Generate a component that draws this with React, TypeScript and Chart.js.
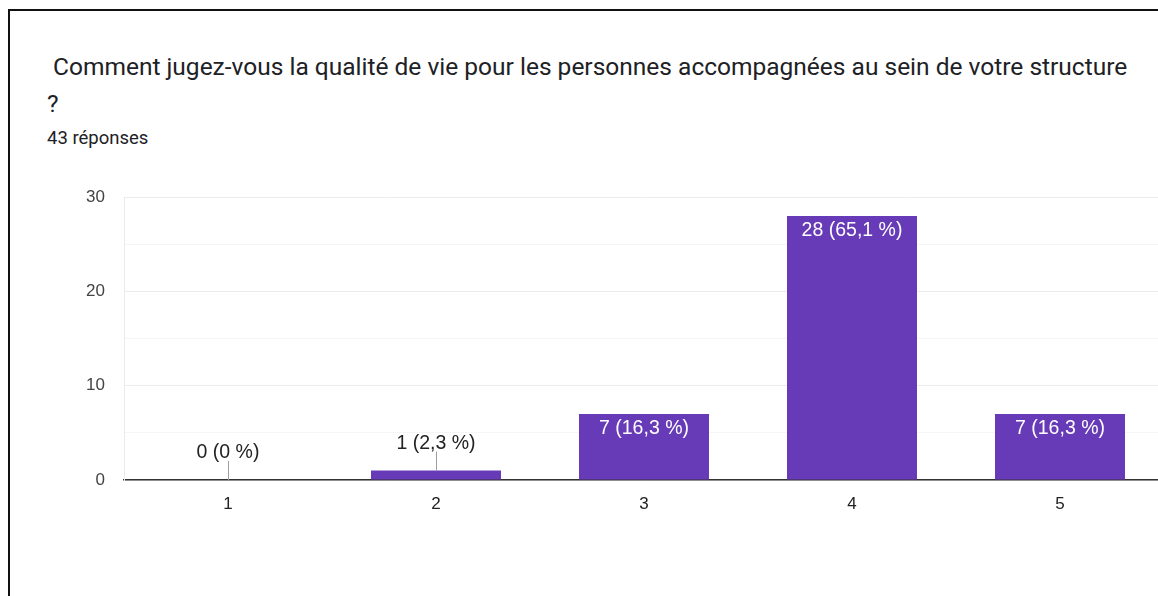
import React, { useEffect, useRef } from "react";
import { Chart, registerables } from "chart.js";

Chart.register(...registerables);

const categories = ["1", "2", "3", "4", "5"];
const counts = [0, 1, 7, 28, 7];
const percents = ["0 %", "2,3 %", "16,3 %", "65,1 %", "16,3 %"];
const yTicks = [0, 10, 20, 30];
const titleLine1 = "Comment jugez-vous la qualité de vie pour les personnes accompagnées au sein de votre structure";
const titleLine2 = "?";
const subtitle = "43 réponses";

const BAR_COLOR = "#673ab7";
const LABEL_FONT = '19.5px "Liberation Sans", Arial, sans-serif';

const labelPlugin = {
  id: "barLabels",
  afterDatasetsDraw(chart: any) {
    const ctx = chart.ctx;
    const meta = chart.getDatasetMeta(0);
    ctx.save();
    ctx.font = LABEL_FONT;
    ctx.textAlign = "center";
    ctx.textBaseline = "middle";
    meta.data.forEach((bar: any, i: number) => {
      const text = `${counts[i]} (${percents[i]})`;
      const h = bar.base - bar.y;
      if (h > 30) {
        ctx.fillStyle = "#ffffff";
        ctx.fillText(text, bar.x, bar.y + 14.5);
      } else {
        ctx.strokeStyle = "#9e9e9e";
        ctx.lineWidth = 1;
        ctx.beginPath();
        ctx.moveTo(Math.round(bar.x) + 0.5, bar.y - 19);
        ctx.lineTo(Math.round(bar.x) + 0.5, bar.y);
        ctx.stroke();
        ctx.fillStyle = "#222222";
        ctx.fillText(text, bar.x, bar.y - 27);
      }
    });
    ctx.restore();
  },
};

function BarChart() {
  const ref = useRef<HTMLCanvasElement | null>(null);
  useEffect(() => {
    if (!ref.current) return;
    const chart = new Chart(ref.current, {
      type: "bar",
      data: {
        labels: categories,
        datasets: [
          {
            data: counts,
            backgroundColor: BAR_COLOR,
            borderWidth: 0,
            barPercentage: 0.625,
            categoryPercentage: 1,
          },
        ],
      },
      options: {
        animation: false,
        responsive: false,
        devicePixelRatio: 1,
        layout: { padding: 0 },
        plugins: {
          legend: { display: false },
          tooltip: { enabled: false },
          title: { display: false },
        },
        scales: {
          x: {
            grid: { display: false, drawTicks: false },
            border: { display: true, color: "#333333", width: 1.5 },
            ticks: {
              color: "#222222",
              font: { family: '"Liberation Sans", Arial, sans-serif', size: 17 },
              padding: 14,
            },
            afterFit: (scale: any) => {
              scale.height = 40;
            },
          },
          y: {
            min: 0,
            max: 30,
            grid: {
              drawTicks: false,
              color: (c: any) => (c.tick && yTicks.includes(c.tick.value) ? "#ebebeb" : "#f5f5f5"),
              lineWidth: 1,
            },
            border: { display: true, color: "#ebebeb" },
            ticks: {
              stepSize: 5,
              color: "#444444",
              font: { family: '"Liberation Sans", Arial, sans-serif', size: 17 },
              padding: 19,
              callback: (v: any) => (yTicks.includes(Number(v)) ? String(v) : ""),
            },
            afterFit: (scale: any) => {
              scale.width = 124;
            },
          },
        },
      },
      plugins: [labelPlugin],
    });
    return () => chart.destroy();
  }, []);
  return (
    <canvas
      ref={ref}
      width={1164}
      height={352}
      style={{ position: "absolute", left: 0, top: 168, width: 1164, height: 352 }}
    />
  );
}

export default function App() {
  return (
    <div
      style={{
        position: "fixed",
        left: 0,
        top: 0,
        width: 1158,
        height: 596,
        overflow: "hidden",
        background: "#fff",
      }}
    >
      <div
        style={{
          position: "absolute",
          left: 8,
          top: 9,
          width: 1170,
          height: 620,
          borderLeft: "2px solid #111",
          borderTop: "2px solid #111",
          boxSizing: "border-box",
        }}
      />
      <div
        style={{
          position: "absolute",
          left: 53,
          top: 55,
          font: '24.5px Roboto, "Noto Sans", sans-serif',
          lineHeight: "24px",
          color: "#202124",
          whiteSpace: "nowrap",
        }}
      >
        {titleLine1}
      </div>
      <div
        style={{
          position: "absolute",
          left: 47,
          top: 92,
          font: '24.5px Roboto, "Noto Sans", sans-serif',
          lineHeight: "24px",
          color: "#202124",
          whiteSpace: "nowrap",
        }}
      >
        {titleLine2}
      </div>
      <div
        style={{
          position: "absolute",
          left: 47,
          top: 129,
          font: '18.5px Roboto, "Noto Sans", sans-serif',
          lineHeight: "18.5px",
          color: "#202124",
          whiteSpace: "nowrap",
        }}
      >
        {subtitle}
      </div>
      <BarChart />
    </div>
  );
}
